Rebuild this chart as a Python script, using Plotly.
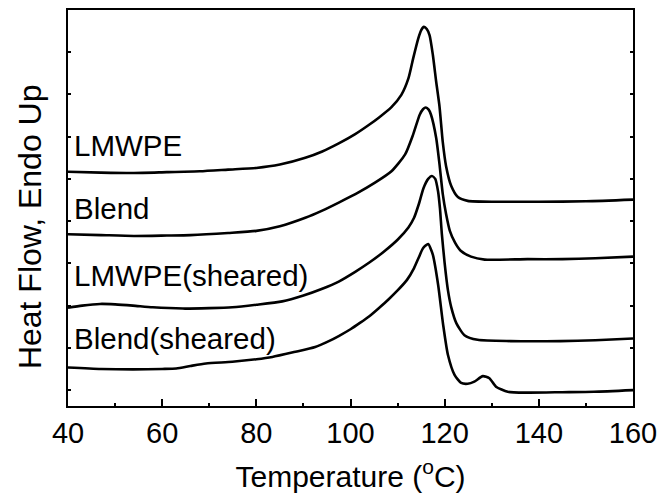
import plotly.graph_objects as go

# DSC heating traces (temperature in °C, heat flow in arbitrary offset units)
t_lmwpe = [40, 47, 54, 61, 68, 74, 80, 85, 90.4, 94, 97.5, 101, 103.8, 106, 108.7, 110.8,
           112.3, 113.3, 114.4, 115.0, 115.6, 116.2, 116.8, 117.5, 118.2, 118.9, 119.6,
           120.3, 121.4, 122.8, 124.9, 131, 140, 150, 160]
hf_lmwpe = [5.17, 5.15, 5.14, 5.16, 5.18, 5.22, 5.26, 5.34, 5.50, 5.65, 5.84, 6.06, 6.27,
            6.45, 6.70, 6.99, 7.38, 7.85, 8.33, 8.52, 8.60, 8.55, 8.40, 7.93, 7.30, 6.72,
            5.87, 5.30, 4.83, 4.57, 4.48, 4.46, 4.46, 4.47, 4.51]

t_blend = [40, 47, 54, 61, 66, 74, 80, 85, 90.4, 94, 97.5, 101.7, 105.2, 108.7, 111.6,
           113.3, 114.7, 115.4, 116.0, 116.6, 117.1, 118.2, 118.9, 119.6, 120.3, 121.1,
           122.2, 123.4, 125.6, 128.5, 137.6, 145, 152, 160]
hf_blend = [3.69, 3.67, 3.65, 3.66, 3.67, 3.72, 3.77, 3.88, 4.08, 4.25, 4.44, 4.68, 4.91,
            5.18, 5.58, 6.05, 6.52, 6.65, 6.69, 6.64, 6.52, 5.97, 5.35, 4.64, 4.17, 3.77,
            3.49, 3.30, 3.16, 3.09, 3.10, 3.10, 3.12, 3.16]

t_lmwpe_sh = [40, 43, 46.8, 50, 53.8, 58, 64.4, 70, 74.9, 80, 85.5, 90, 94, 97.5, 101,
              104, 107, 110, 112.3, 113.5, 114.5, 115.5, 116.5, 117.3, 118.0, 118.6, 119.0,
              119.4, 120.0, 120.7, 121.4, 122.5, 124.2, 127.0, 134.0, 144.6, 152, 160]
hf_lmwpe_sh = [1.95, 2.00, 2.04, 2.03, 2.00, 1.96, 1.93, 1.94, 1.96, 2.02, 2.10, 2.24, 2.40,
               2.57, 2.80, 3.02, 3.27, 3.56, 3.85, 4.08, 4.40, 4.78, 5.00, 5.07, 5.00, 4.70,
               4.30, 3.70, 3.00, 2.36, 1.96, 1.58, 1.30, 1.19, 1.16, 1.16, 1.18, 1.22]

t_blend_sh = [40, 47, 53.8, 60, 63, 66, 69.3, 74.9, 80, 83.4, 88, 92.5, 95.4, 97.5, 100,
              102, 104, 106, 108, 110, 112, 113.5, 114.5, 115.4, 116.5, 117.2, 117.5, 118.6,
              119.7, 120.7, 122.1, 123.5, 124.9, 126.3, 128.1, 129.5, 130.9, 133.4, 137.6,
              145, 151.7, 160]
hf_blend_sh = [0.535, 0.50, 0.49, 0.50, 0.51, 0.57, 0.63, 0.67, 0.73, 0.785, 0.90, 1.02,
               1.16, 1.28, 1.44, 1.59, 1.75, 1.94, 2.14, 2.36, 2.61, 2.89, 3.14, 3.36, 3.46,
               3.30, 3.20, 2.50, 1.53, 0.83, 0.36, 0.17, 0.15, 0.20, 0.33, 0.28, 0.08, -0.04,
               -0.06, -0.05, -0.04, 0.0]

labels = ["LMWPE", "Blend", "LMWPE(sheared)", "Blend(sheared)"]
label_y = [5.79, 4.30, 2.71, 1.21]

font_family = "Arial, Liberation Sans, sans-serif"

fig = go.Figure()
for t, hf, name in [(t_lmwpe, hf_lmwpe, labels[0]), (t_blend, hf_blend, labels[1]),
                    (t_lmwpe_sh, hf_lmwpe_sh, labels[2]), (t_blend_sh, hf_blend_sh, labels[3])]:
    fig.add_trace(go.Scatter(x=t, y=hf, mode="lines", name=name,
                             line=dict(color="black", width=2.6, shape="spline", smoothing=0.6),
                             showlegend=False, hoverinfo="skip"))

for text, yy in zip(labels, label_y):
    fig.add_annotation(x=40.9, y=yy, xref="x", yref="y", text=text, showarrow=False,
                       xanchor="left", yanchor="middle",
                       font=dict(family=font_family, size=29.5, color="black"))

fig.add_annotation(x=-0.066, y=0.4535, xref="paper", yref="paper",
                   text="Heat Flow, Endo Up", textangle=-90, showarrow=False,
                   xanchor="center", yanchor="middle",
                   font=dict(family=font_family, size=32, color="black"))

fig.update_layout(
    width=665, height=500,
    margin=dict(l=68, r=29, t=8, b=94),
    paper_bgcolor="white", plot_bgcolor="white",
    font=dict(family=font_family, color="black"),
    xaxis=dict(
        range=[40, 160], tick0=40, dtick=20,
        ticks="inside", ticklen=7, tickwidth=2, tickcolor="black",
        minor=dict(ticks="inside", ticklen=3, tickwidth=1.5, dtick=10, tickcolor="black"),
        showline=True, linewidth=2, linecolor="black", mirror=True,
        showgrid=False, zeroline=False,
        tickfont=dict(size=29, family=font_family, color="black"),
        title=dict(text="Temperature (<sup>o</sup>C)", standoff=18,
                   font=dict(size=30, family=font_family, color="black")),
    ),
    xaxis2=dict(
        overlaying="x", side="top", anchor="y", matches="x",
        range=[40, 160], tick0=40, dtick=10,
        ticks="inside", ticklen=3, tickwidth=1.5, tickcolor="black",
        showticklabels=False, showgrid=False, zeroline=False, showline=False,
    ),
    yaxis=dict(
        range=[-0.377, 9], tick0=0, dtick=1,
        ticks="inside", ticklen=3, tickwidth=1.5, tickcolor="black",
        showticklabels=False, showline=True, linewidth=2, linecolor="black",
        mirror="ticks", showgrid=False, zeroline=False,
    ),
)

fig.write_html("out.html")
